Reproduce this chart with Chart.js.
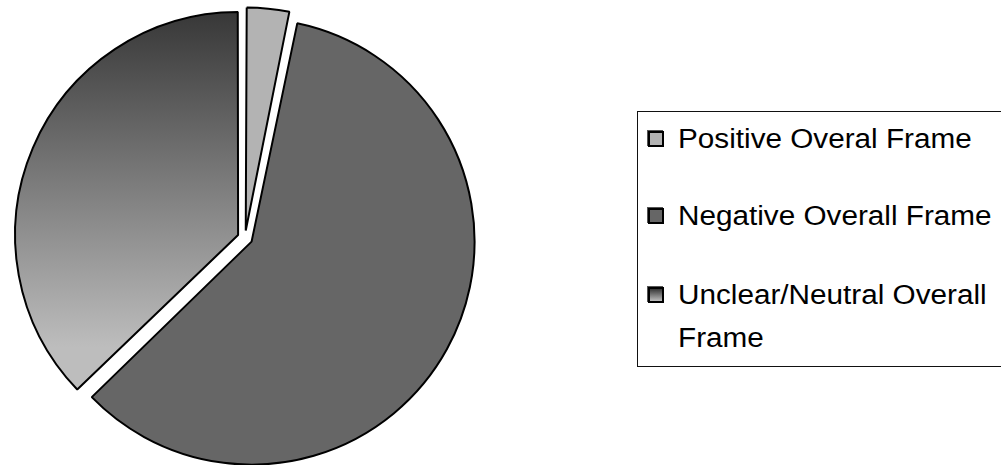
<!DOCTYPE html>
<html>
<head>
<meta charset="utf-8">
<script src="https://cdn.jsdelivr.net/npm/chart.js@4/dist/chart.umd.min.js"></script>
<style>
  html, body { margin: 0; padding: 0; background: #fff; overflow: hidden; }
  #wrap { position: relative; width: 1001px; height: 465px; }
  #c { position: absolute; left: 0; top: 0; }
  #legend {
    position: absolute; left: 637px; top: 111px; width: 420px; height: 256px;
    border: 1px solid #111; box-sizing: border-box; background: #fff;
    font-family: "Liberation Sans", Arial, sans-serif; font-size: 27px; color: #000;
  }
  .item { position: absolute; left: 0; }
  .sw {
    position: absolute; left: 10px; width: 12px; height: 12px;
    border: 2px solid #000; box-shadow: -1px -1px 0 #555;
  }
  .tx {
    position: absolute; left: 40px; line-height: 43px; white-space: nowrap;
    transform: scaleX(1.1); transform-origin: 0 0;
  }
</style>
</head>
<body>
<div id="wrap">
  <canvas id="c" width="1001" height="465"></canvas>
  <div id="legend"></div>
</div>
<script>
// ---- data ----
const categories = ["Positive Overal Frame", "Negative Overall Frame", "Unclear/Neutral Overall Frame"];
const legendLines = [["Positive Overal Frame"], ["Negative Overall Frame"], ["Unclear/Neutral Overall", "Frame"]];
const shares = [3.2, 59.6, 37.2];

// ---- styles ----
const solidColors = ["#b3b3b3", "#666666", null];
const gradStops = ["#363636", "#bdbdbd"];

function sliceColor(ctx) {
  const i = ctx.dataIndex;
  if (solidColors[i]) return solidColors[i];
  const chart = ctx.chart;
  const g = chart.ctx.createLinearGradient(0, 12, 0, 350);
  g.addColorStop(0, gradStops[0]);
  g.addColorStop(1, gradStops[1]);
  return g;
}

// Chart.js enlarges exploded arcs by offset*(1-sin(circumference)); undo it so all slices share one radius
const equalRadius = {
  id: 'equalRadius',
  beforeDatasetsDraw(chart) {
    const meta = chart.getDatasetMeta(0);
    const base = meta.controller.outerRadius;
    meta.data.forEach(arc => {
      const off = (arc.options.offset || 0) / 4;
      const circ = arc.endAngle - arc.startAngle;
      const fix = 1 - Math.sin(Math.min(Math.PI, circ));
      arc.outerRadius = base - off * fix;
    });
  }
};

new Chart(document.getElementById('c'), {
  type: 'pie',
  data: {
    labels: categories,
    datasets: [{
      data: shares,
      backgroundColor: sliceColor,
      borderColor: '#000000',
      borderWidth: 2,
      offset: 30
    }]
  },
  options: {
    responsive: false,
    animation: false,
    radius: 223,
    layout: { padding: { left: 0, right: 511, top: 11, bottom: 0 } },
    plugins: { legend: { display: false }, tooltip: { enabled: false } }
  },
  plugins: [equalRadius]
});

// HTML legend built from the same arrays
const legend = document.getElementById('legend');
const itemTops = [6, 83, 162]; // relative to legend box (layout)
legendLines.forEach((lines, i) => {
  const it = document.createElement('div');
  it.className = 'item';
  it.style.top = itemTops[i] + 'px';
  const sw = document.createElement('div');
  sw.className = 'sw';
  sw.style.top = '13px';
  if (solidColors[i]) sw.style.background = solidColors[i];
  else sw.style.background = 'linear-gradient(' + gradStops[0] + ',' + gradStops[1] + ')';
  const tx = document.createElement('div');
  tx.className = 'tx';
  tx.innerHTML = lines.join('<br>');
  it.appendChild(sw);
  it.appendChild(tx);
  legend.appendChild(it);
});
</script>
</body>
</html>
